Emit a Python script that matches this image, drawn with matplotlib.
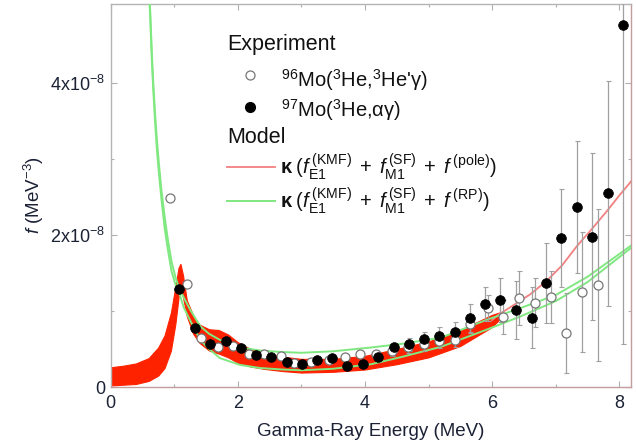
import numpy as np
import matplotlib
matplotlib.use("Agg")
import matplotlib.pyplot as plt
from matplotlib.ticker import FixedLocator, FixedFormatter

plt.rcParams['font.family'] = ['Liberation Sans', 'DejaVu Sans']
plt.rcParams['mathtext.fontset'] = 'custom'
plt.rcParams['mathtext.rm'] = 'Liberation Sans'
plt.rcParams['mathtext.it'] = 'Liberation Sans:italic'
plt.rcParams['mathtext.bf'] = 'Liberation Sans:bold'

# ---------------- data (units of 1e-8 MeV^-3) ----------------
e_mo97 = [1.08, 1.33, 1.57, 1.81, 2.05, 2.28, 2.52, 2.77, 3.01, 3.24, 3.49, 3.72,
          3.97, 4.21, 4.45, 4.69, 4.93, 5.17, 5.41, 5.65, 5.89, 6.12, 6.37, 6.62,
          6.85, 7.09, 7.33, 7.57, 7.82, 8.06]
f_mo97 = [1.285, 0.78, 0.56, 0.61, 0.51, 0.42, 0.39, 0.33, 0.30, 0.35, 0.38, 0.28,
          0.30, 0.39, 0.52, 0.56, 0.63, 0.67, 0.72, 0.91, 1.09, 1.15, 1.01, 0.91,
          1.37, 1.96, 2.37, 1.98, 2.55, 4.76]
err_mo97 = [0.02, 0.02, 0.02, 0.02, 0.02, 0.02, 0.02, 0.02, 0.02, 0.03, 0.03, 0.03,
            0.04, 0.05, 0.06, 0.08, 0.10, 0.12, 0.13, 0.18, 0.22, 0.29, 0.38, 0.40,
            0.53, 0.65, 0.87, 1.10, 1.48, 4.20]

e_mo96 = [0.94, 1.20, 1.43, 1.69, 1.93, 2.18, 2.42, 2.68, 2.89, 3.16, 3.43, 3.69,
          3.93, 4.17, 4.43, 4.68, 4.93, 5.17, 5.41, 5.65, 5.94, 6.17, 6.42, 6.67,
          6.92, 7.16, 7.41, 7.67]
f_mo96 = [2.49, 1.35, 0.65, 0.52, 0.54, 0.44, 0.44, 0.41, 0.32, 0.33, 0.36, 0.40,
          0.43, 0.43, 0.47, 0.52, 0.56, 0.60, 0.62, 0.83, 1.04, 0.92, 1.17, 1.11,
          1.18, 0.71, 1.25, 1.34]
err_mo96 = [0.02, 0.02, 0.02, 0.02, 0.02, 0.02, 0.02, 0.02, 0.02, 0.03, 0.03, 0.03,
            0.04, 0.05, 0.06, 0.07, 0.08, 0.09, 0.10, 0.12, 0.17, 0.22, 0.35, 0.32,
            0.34, 0.53, 0.79, 1.00]

# pole model uncertainty band
e_band = [0.0, 0.2, 0.4, 0.6, 0.75, 0.85, 0.95, 1.02, 1.07, 1.10, 1.14, 1.20, 1.30,
          1.40, 1.55, 1.70, 1.85, 2.00, 2.20, 2.40, 2.70, 3.00, 3.50, 4.00, 4.50,
          5.00, 5.50, 6.00, 6.15]
band_hi = [0.26, 0.28, 0.31, 0.38, 0.52, 0.68, 0.98, 1.32, 1.57, 1.62, 1.47, 1.14, 0.94,
           0.82, 0.76, 0.75, 0.69, 0.59, 0.50, 0.45, 0.40, 0.37, 0.37, 0.41, 0.50,
           0.60, 0.75, 0.95, 0.99]
band_lo = [0.02, 0.03, 0.04, 0.08, 0.15, 0.25, 0.48, 0.83, 1.18, 1.33, 1.18, 0.93, 0.70,
           0.58, 0.48, 0.44, 0.39, 0.32, 0.27, 0.24, 0.21, 0.19, 0.20, 0.23, 0.30,
           0.39, 0.54, 0.79, 0.92]

# pole model central line (high energy part)
e_pole = [6.00, 6.10, 6.38, 6.60, 6.85, 7.10, 7.33, 7.59, 7.82, 8.00, 8.20]
f_pole = [0.88, 0.95, 1.10, 1.22, 1.39, 1.60, 1.85, 2.10, 2.33, 2.52, 2.72]

# RP model, two curves
e_rp = [0.60, 0.62, 0.65, 0.67, 0.70, 0.73, 0.76, 0.80, 0.85, 0.90, 0.96, 1.02, 1.08,
        1.15, 1.25, 1.41, 1.55, 1.72, 2.04, 2.35, 2.70, 3.00, 3.50, 4.10, 4.60,
        5.20, 5.90, 6.45, 7.00, 7.50, 8.20]
f_rp_a = [5.40, 5.04, 4.40, 4.04, 3.60, 3.25, 2.95, 2.60, 2.25, 1.95, 1.65, 1.45, 1.30,
          1.18, 1.02, 0.80, 0.70, 0.62, 0.52, 0.48, 0.46, 0.45, 0.47, 0.52, 0.57,
          0.65, 0.88, 1.04, 1.21, 1.45, 1.87]
f_rp_b = [5.30, 4.95, 4.30, 3.95, 3.50, 3.12, 2.82, 2.48, 2.10, 1.82, 1.52, 1.35, 1.24,
          1.05, 0.88, 0.62, 0.50, 0.38, 0.29, 0.25, 0.23, 0.22, 0.24, 0.30, 0.40,
          0.53, 0.75, 0.93, 1.13, 1.38, 1.84]

x_ticks = [0, 2, 4, 6, 8]
y_ticks = [0, 2e-8, 4e-8]
y_ticklabels = ['0', r'2x10$^{-8}$', r'4x10$^{-8}$']

S = 1e-8

# ---------------- figure ----------------
W, H = 636, 446
fig = plt.figure(figsize=(W / 100, H / 100), dpi=100)
ax_l, ax_r, ax_t, ax_b = 110.5, 631, 4, 387
ax = fig.add_axes([ax_l / W, 1 - ax_b / H, (ax_r - ax_l) / W, (ax_b - ax_t) / H])

red_band = '#ff2200'
red_line = '#f28080'
green = '#80e880'

ax.fill_between(e_band, np.array(band_lo) * S, np.array(band_hi) * S,
                color=red_band, lw=0.8, ec=red_band, zorder=2)
ax.plot(e_pole, np.array(f_pole) * S, color=red_line, lw=1.3, zorder=3)
ax.plot(e_rp, np.array(f_rp_a) * S, color=green, lw=1.4, zorder=3)
ax.plot(e_rp, np.array(f_rp_b) * S, color=green, lw=1.4, zorder=3)

ax.errorbar(e_mo96, np.array(f_mo96) * S, yerr=np.array(err_mo96) * S, fmt='none',
            ecolor='#a0a0a0', elinewidth=0.9, capsize=1.8, capthick=0.8, zorder=4)
ax.errorbar(e_mo97, np.array(f_mo97) * S, yerr=np.array(err_mo97) * S, fmt='none',
            ecolor='#a0a0a0', elinewidth=0.9, capsize=1.8, capthick=0.8, zorder=4)
ax.plot(e_mo96, np.array(f_mo96) * S, 'o', ms=6.5, mfc='white', mec='#777777',
        mew=0.9, zorder=5, clip_on=False)
ax.plot(e_mo97, np.array(f_mo97) * S, 'o', ms=7.0, mfc='black', mec='black',
        mew=0.5, zorder=6, clip_on=False)

ax.set_xlim(0, (ax_r - ax_l) / 63.6)
ax.set_ylim(0, (ax_b - ax_t) / 76.0 * S)

ax.xaxis.set_major_locator(FixedLocator(x_ticks))
ax.xaxis.set_minor_locator(FixedLocator([1, 3, 5, 7]))
ax.yaxis.set_major_locator(FixedLocator(y_ticks))
ax.yaxis.set_major_formatter(FixedFormatter(y_ticklabels))
ax.yaxis.set_minor_locator(FixedLocator([1e-8, 3e-8]))
tick_col = '#1c2236'
ax.tick_params(which='both', direction='in', top=True, right=True,
               color='#b0b0b0', labelsize=13, labelcolor=tick_col)
ax.tick_params(which='major', length=4, width=0.8)
ax.tick_params(axis='x', which='major', pad=6)
ax.tick_params(axis='y', which='major', pad=4)
ax.tick_params(which='minor', length=2.5, width=0.8)

for side in ['left', 'top']:
    ax.spines[side].set_color('#b4b4b4')
for side in ['right', 'bottom']:
    ax.spines[side].set_color('#c39c9c')
for s in ax.spines.values():
    s.set_linewidth(1.0)

ax.set_xlabel('Gamma-Ray Energy (MeV)', fontsize=13.5, color=tick_col, labelpad=8)
ax.set_ylabel(r'$f$ (MeV$^{-3}$)', fontsize=13.5, color=tick_col, labelpad=3)

# ---------------- legend (custom) ----------------
def fx(px):
    return px / W

def fy(py):
    return 1 - py / H

fig.text(fx(227), fy(50), 'Experiment', fontsize=15.5, color='#111111', va='baseline')
fig.text(fx(227), fy(143), 'Model', fontsize=15.5, color='#111111', va='baseline')
fig.lines.append(plt.Line2D([fx(250)], [fy(75)], marker='o', ms=6.5, mfc='white',
                            mec='#777777', mew=0.9, transform=fig.transFigure))
fig.lines.append(plt.Line2D([fx(250)], [fy(107)], marker='o', ms=7.0, mfc='black',
                            mec='black', transform=fig.transFigure))
fig.text(fx(281), fy(87), r"$^{96}$Mo($^{3}$He,$^{3}$He'γ)", fontsize=14.5,
         color='#111111', va='baseline')
fig.text(fx(281), fy(117), r"$^{97}$Mo($^{3}$He,αγ)", fontsize=14.5,
         color='#111111', va='baseline')
fig.lines.append(plt.Line2D([fx(227), fx(275)], [fy(167), fy(167)], color=red_line,
                            lw=1.3, transform=fig.transFigure))
fig.lines.append(plt.Line2D([fx(227), fx(275)], [fy(201), fy(201)], color=green,
                            lw=1.4, transform=fig.transFigure))
fig.text(fx(280), fy(167),
         r'$\mathbf{\kappa}\;(\mathit{f}^{\,\rm (KMF)}_{\rm E1}\;+\;\mathit{f}^{\,\rm (SF)}_{\rm M1}\;+\;\mathit{f}^{\,\rm (pole)})$',
         fontsize=14.5, color='#111111', va='center')
fig.text(fx(280), fy(201),
         r'$\mathbf{\kappa}\;(\mathit{f}^{\,\rm (KMF)}_{\rm E1}\;+\;\mathit{f}^{\,\rm (SF)}_{\rm M1}\;+\;\mathit{f}^{\,\rm (RP)})$',
         fontsize=14.5, color='#111111', va='center')

fig.savefig('out.png', dpi=100)
